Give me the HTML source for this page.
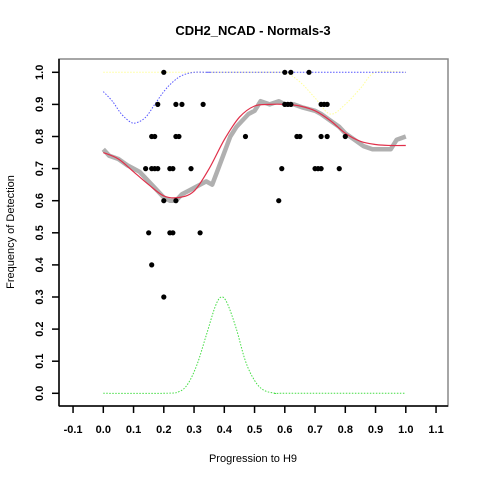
<!DOCTYPE html>
<html><head><meta charset="utf-8"><style>
body{margin:0;background:#fff}
svg{display:block;font-family:"Liberation Sans",Arial,sans-serif}
</style></head><body>
<svg id="c" width="480" height="480"></svg>
<script>
const xTicks=[-0.1,0,0.1,0.2,0.3,0.4,0.5,0.6,0.7,0.8,0.9,1.0,1.1];
const yTicks=[0,0.1,0.2,0.3,0.4,0.5,0.6,0.7,0.8,0.9,1.0];
const ptX=[0.2,0.6,0.62,0.68, 0.18,0.24,0.26,0.33,0.6,0.61,0.62,0.72,0.73,0.74, 0.16,0.17,0.24,0.25,0.47,0.64,0.65,0.72,0.74,0.8, 0.14,0.16,0.17,0.18,0.22,0.23,0.29,0.59,0.7,0.71,0.72,0.78, 0.2,0.24,0.58, 0.15,0.22,0.23,0.32, 0.16,0.2];
const ptY=[1,1,1,1, 0.9,0.9,0.9,0.9,0.9,0.9,0.9,0.9,0.9,0.9, 0.8,0.8,0.8,0.8,0.8,0.8,0.8,0.8,0.8,0.8, 0.7,0.7,0.7,0.7,0.7,0.7,0.7,0.7,0.7,0.7,0.7,0.7, 0.6,0.6,0.6, 0.5,0.5,0.5,0.5, 0.4,0.3];
const grayX=[0,0.02,0.05,0.08,0.1,0.12,0.15,0.18,0.2,0.22,0.24,0.26,0.28,0.3,0.32,0.34,0.36,0.38,0.4,0.42,0.44,0.46,0.48,0.5,0.52,0.55,0.58,0.6,0.63,0.66,0.7,0.72,0.75,0.78,0.8,0.83,0.86,0.89,0.92,0.95,0.97,1.0];
const grayY=[0.76,0.74,0.73,0.71,0.7,0.69,0.66,0.63,0.61,0.6,0.6,0.62,0.63,0.64,0.65,0.66,0.65,0.7,0.75,0.8,0.83,0.85,0.87,0.88,0.91,0.9,0.91,0.9,0.9,0.89,0.88,0.87,0.85,0.83,0.81,0.79,0.77,0.76,0.76,0.76,0.79,0.8];
const redX=[0,0.05,0.1,0.15,0.2,0.25,0.3,0.35,0.4,0.45,0.5,0.55,0.6,0.65,0.7,0.75,0.8,0.85,0.9,0.95,1.0];
const redY=[0.75,0.73,0.69,0.65,0.615,0.61,0.63,0.7,0.79,0.86,0.895,0.9,0.9,0.895,0.88,0.85,0.81,0.785,0.775,0.772,0.772];
const blueX=[0,0.03,0.06,0.09,0.11,0.14,0.17,0.2,0.23,0.26,0.3,0.35,0.4,1.0];
const blueY=[0.94,0.91,0.87,0.845,0.843,0.86,0.9,0.94,0.97,0.99,1.0,1.0,1.0,1.0];
const yelX=[0,0.55,0.6,0.65,0.7,0.75,0.8,0.85,0.9,1.0];
const yelY=[1,1,1,0.97,0.92,0.87,0.9,0.95,1,1];
const grnX=[0,0.2,0.25,0.28,0.31,0.34,0.37,0.39,0.41,0.44,0.47,0.5,0.53,0.57,0.6,1.0];
const grnY=[0,0,0.005,0.03,0.09,0.18,0.27,0.3,0.28,0.2,0.1,0.04,0.01,0,0,0];
const X=v=>103.3+v*302.5, Y=v=>393.3-v*321;
const svg=document.getElementById('c');const NS='http://www.w3.org/2000/svg';
function mk(t,a,p){const e=document.createElementNS(NS,t);for(const k in a)e.setAttribute(k,a[k]);(p||svg).appendChild(e);return e;}
let e=mk('rect',{x:59,y:59,width:389,height:347,fill:'none',stroke:'#888','stroke-width':1.5});

e=mk('line',{x1:59,y1:59,x2:59,y2:406,stroke:'#000','stroke-width':1.5});

e=mk('line',{x1:59,y1:406,x2:448,y2:406,stroke:'#000','stroke-width':1.5});

xTicks.forEach(v=>{const t=mk('line',{x1:X(v),y1:406,x2:X(v),y2:413,stroke:'#000','stroke-width':1.5});

const l=mk('text',{x:X(v),y:433,'text-anchor':'middle','font-size':11,'font-weight':'bold'});l.textContent=v.toFixed(1);
});
yTicks.forEach(v=>{const t=mk('line',{x1:52,y1:Y(v),x2:59,y2:Y(v),stroke:'#000','stroke-width':1.5});

const l=mk('text',{x:0,y:0,'text-anchor':'middle','font-size':11,'font-weight':'bold',transform:`translate(43,${Y(v)}) rotate(-90)`});l.textContent=v.toFixed(1);
});
function path(xs,ys,attrs,name,smooth){
const P=xs.map((x,i)=>[X(x),Y(ys[i])]);let d='M'+P[0][0].toFixed(1)+','+P[0][1].toFixed(1);
for(let i=0;i<P.length-1;i++){
 if(!smooth){d+='L'+P[i+1][0].toFixed(1)+','+P[i+1][1].toFixed(1);continue;}
 const p0=P[Math.max(0,i-1)],p1=P[i],p2=P[i+1],p3=P[Math.min(P.length-1,i+2)];
 const c1=[p1[0]+(p2[0]-p0[0])/6,p1[1]+(p2[1]-p0[1])/6],c2=[p2[0]-(p3[0]-p1[0])/6,p2[1]-(p3[1]-p1[1])/6];
 d+='C'+c1.map(v=>v.toFixed(1))+' '+c2.map(v=>v.toFixed(1))+' '+p2.map(v=>v.toFixed(1));}
const p=mk('path',Object.assign({d:d,fill:'none'},attrs));}
path(grayX,grayY,{stroke:'#b0b0b0','stroke-width':4.5,'stroke-linejoin':'round'},'gray-moving-average',false);
path(yelX,yelY,{stroke:'#ffff99','stroke-width':1,'stroke-dasharray':'1.5 1.5'},'yellow-curve',true);
path(blueX,blueY,{stroke:'#5555ff','stroke-width':1,'stroke-dasharray':'1.5 1.5'},'blue-curve',true);
path(grnX,grnY,{stroke:'#44dd44','stroke-width':1,'stroke-dasharray':'1.5 1.5'},'green-density',true);
path(redX,redY,{stroke:'#e0304a','stroke-width':1.2},'red-fit',true);
ptX.forEach((x,i)=>{const c=mk('circle',{cx:X(x),cy:Y(ptY[i]),r:2.6,fill:'#000'});
});
e=mk('text',{x:253,y:35,'text-anchor':'middle','font-size':13,'font-weight':'bold'});e.textContent='CDH2_NCAD - Normals-3';

e=mk('text',{x:253,y:462,'text-anchor':'middle','font-size':11});e.textContent='Progression to H9';

e=mk('text',{x:0,y:0,'text-anchor':'middle','font-size':11,transform:'translate(14,232) rotate(-90)'});e.textContent='Frequency of Detection';

</script>
</body></html>
